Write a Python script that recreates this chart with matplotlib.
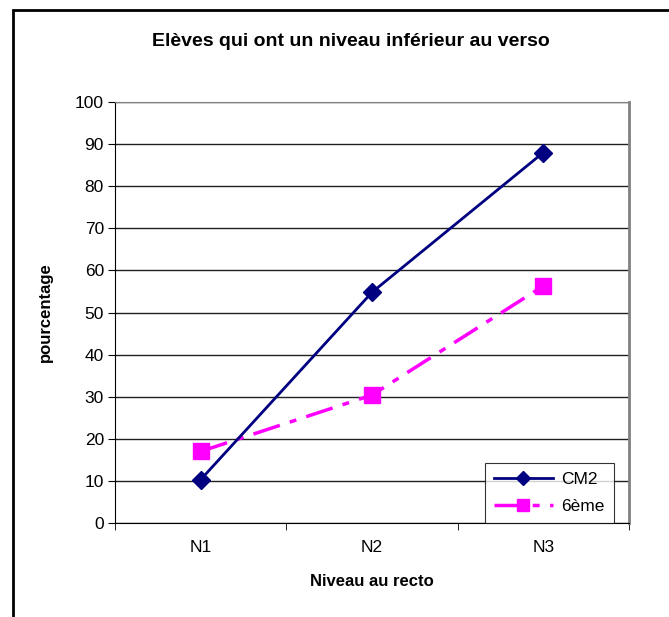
import matplotlib.pyplot as plt
from matplotlib.patches import Rectangle

plt.rcParams['font.family'] = ['Liberation Sans', 'DejaVu Sans']

categories = ['N1', 'N2', 'N3']
cm2 = [10.3, 54.8, 88.0]
sixieme = [17.0, 30.4, 56.3]

fig = plt.figure(figsize=(6.69, 6.17), dpi=100)

# outer chart border (cut on right and bottom, like the original)
fig.patches.append(Rectangle((13 / 669, -0.05), 1.0, (617 - 10) / 617 + 0.05,
                             transform=fig.transFigure, fill=False,
                             edgecolor='black', linewidth=2))

ax = fig.add_axes([115 / 669, (617 - 523) / 617, (629 - 115) / 669, (523 - 102) / 617])

x = range(len(categories))
ax.plot(x, cm2, color='#000080', linewidth=2, marker='D', markersize=9,
        label='CM2', zorder=4)
ax.plot(x, sixieme, color='#FF00FF', linewidth=2.5, linestyle=(0, (8, 3, 2, 3)),
        marker='s', markersize=11, label='6ème', zorder=3)

ax.set_xlim(-0.5, 2.5)
ax.set_ylim(0, 100)
ax.set_yticks(range(0, 101, 10))
ax.set_xticks(list(x))
ax.set_xticklabels(categories)
ax.set_xticks([-0.5, 0.5, 1.5, 2.5], minor=True)
ax.tick_params(axis='x', which='major', length=0, pad=12, labelsize=12.5)
ax.tick_params(axis='x', which='minor', length=5, direction='out')
ax.tick_params(axis='y', length=5, direction='out', labelsize=12.5, pad=3)
ax.grid(axis='y', color='#202020', linewidth=1)
ax.set_axisbelow(True)

ax.spines['left'].set_color('black')
ax.spines['bottom'].set_color('black')
ax.spines['top'].set_color('#808080')
ax.spines['right'].set_color('#808080')
ax.spines['right'].set_linewidth(2)

fig.text(351 / 669, 1 - 42 / 617, 'Elèves qui ont un niveau inférieur au verso',
         fontsize=14, fontweight='bold', ha='center', va='center')
ax.set_xlabel('Niveau au recto', fontsize=12, fontweight='bold', labelpad=14)
ax.set_ylabel('pourcentage', fontsize=12, fontweight='bold', labelpad=16)

leg = ax.legend(loc='lower right', bbox_to_anchor=(0.97, 0.0), borderaxespad=0,
                frameon=True, fancybox=False, edgecolor='black', fontsize=12.5,
                handlelength=3.4, borderpad=0.5, labelspacing=0.7,
                handletextpad=0.5, markerscale=0.75)
leg.get_frame().set_linewidth(0.8)

fig.savefig('out.png', dpi=100)
